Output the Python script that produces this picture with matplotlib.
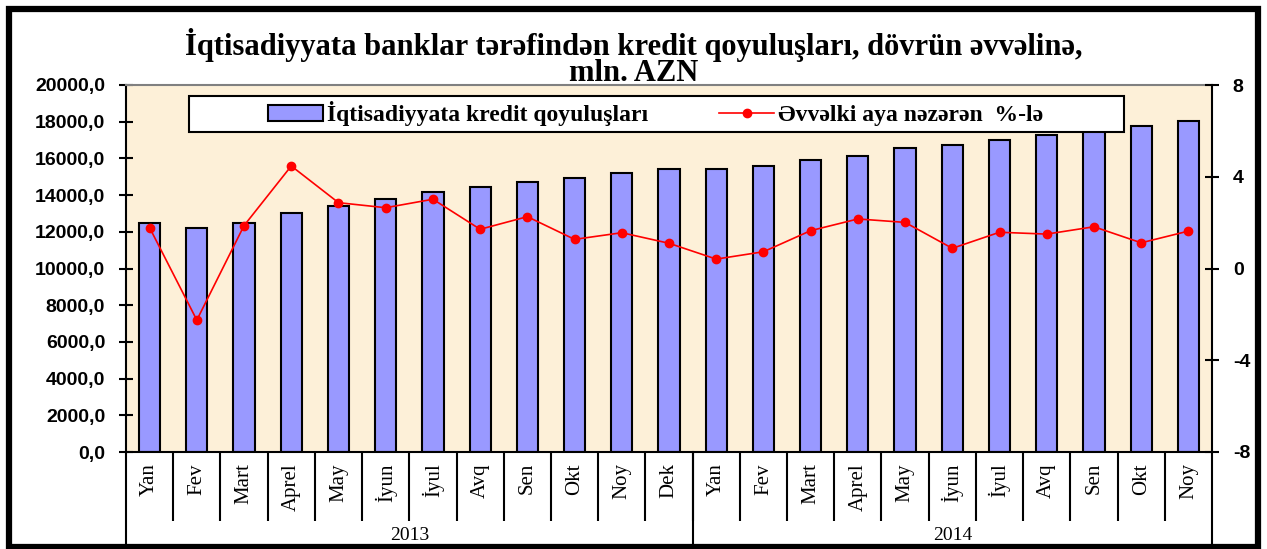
import matplotlib.pyplot as plt
import matplotlib.patches as mpatches
from matplotlib.lines import Line2D

# ay adları
aylar_2013 = ['Yan', 'Fev', 'Mart', 'Aprel', 'May', 'İyun', 'İyul', 'Avq', 'Sen', 'Okt', 'Noy', 'Dek']
aylar_2014 = ['Yan', 'Fev', 'Mart', 'Aprel', 'May', 'İyun', 'İyul', 'Avq', 'Sen', 'Okt', 'Noy']
illər = ['2013', '2014']

# kredit qoyuluşları, mln. AZN
kredit = [12460, 12190, 12460, 13010, 13420, 13800, 14190, 14460, 14730, 14950, 15190, 15420,
          15430, 15590, 15910, 16150, 16550, 16730, 17000, 17300, 17560, 17790, 18060]
# əvvəlki aya nəzərən, %
artim = [1.78, -2.25, 1.87, 4.47, 2.87, 2.65, 3.02, 1.71, 2.26, 1.27, 1.56, 1.10,
         0.41, 0.73, 1.65, 2.16, 2.01, 0.88, 1.58, 1.50, 1.82, 1.12, 1.63]

aylar = aylar_2013 + aylar_2014
x = list(range(len(aylar)))

serif = 'Liberation Serif'
sans = 'Liberation Sans'

fig = plt.figure(figsize=(12.67, 5.49), dpi=100)
ax = fig.add_axes([126 / 1267, 1 - 452 / 549, (1212 - 126) / 1267, (452 - 85) / 549])
ax.set_facecolor('#FDF0D8')

ax.bar(x, kredit, width=0.45, color='#9999FF', edgecolor='black', linewidth=1.5, zorder=2)
ax.set_xlim(-0.5, len(aylar) - 0.5)
ax.set_ylim(0, 20000)
ax.set_yticks(range(0, 20001, 2000))
ax.set_yticklabels([f'{v},0' for v in range(0, 20001, 2000)],
                   fontfamily=sans, fontweight='bold', fontsize=14)
ax.tick_params(axis='y', direction='inout', length=10, width=1.5, pad=10)

ax.set_xticks(x)
ax.set_xticklabels(aylar, rotation=90, fontfamily=serif, fontsize=15)
ax.tick_params(axis='x', length=0, pad=8)
ax.set_xticks([i + 0.5 for i in x[:-1]], minor=True)
ax.tick_params(axis='x', which='minor', direction='out', length=50, width=1.5)

for s in ['left', 'bottom']:
    ax.spines[s].set_linewidth(1.5)
ax.spines['top'].set_color('#808080')
ax.spines['top'].set_linewidth(1.5)
ax.spines['right'].set_visible(False)

# il ayırıcıları
for xv in [-0.5, 11.5, len(aylar) - 0.5]:
    ax.axvline(xv, ymin=-0.27, ymax=0, color='black', linewidth=1.5, clip_on=False)
ax.text(5.5, -0.252, illər[0], transform=ax.get_xaxis_transform(), ha='center', va='bottom',
        fontfamily=serif, fontsize=14)
ax.text(17.0, -0.252, illər[1], transform=ax.get_xaxis_transform(), ha='center', va='bottom',
        fontfamily=serif, fontsize=14)

ax2 = ax.twinx()
ax2.plot(x, artim, color='#FF0000', linewidth=1.2, marker='o', markersize=6, zorder=3)
ax2.set_ylim(-8, 8)
ax2.set_yticks([-8, -4, 0, 4, 8])
ax2.set_yticklabels(['-8', '-4', '0', '4', '8'], fontfamily=sans, fontweight='bold', fontsize=14)
ax2.tick_params(axis='y', direction='inout', length=10, width=1.5, pad=10)
ax2.spines['right'].set_linewidth(1.5)
for s in ['left', 'top', 'bottom']:
    ax2.spines[s].set_visible(False)

# legend qutusu
box = mpatches.Rectangle((0.058, 0.873), 0.861, 0.097, transform=ax2.transAxes,
                         facecolor='white', edgecolor='black', linewidth=1.5, zorder=5)
ax2.add_patch(box)
h1 = mpatches.Patch(facecolor='#9999FF', edgecolor='black', linewidth=1.5)
h2 = Line2D([], [], color='#FF0000', linewidth=1.2, marker='o', markersize=6)
leg = ax2.legend([h1, h2], ['İqtisadiyyata kredit qoyuluşları', 'Əvvəlki aya nəzərən  %-lə'],
                 loc='center', bbox_to_anchor=(0.488, 0.921), ncol=2, frameon=False,
                 prop={'family': serif, 'weight': 'bold', 'size': 17},
                 handlelength=2.3, handletextpad=0.2, columnspacing=3.0)
leg.set_zorder(10)

fig.text(0.5, 1 - 58 / 549,
         'İqtisadiyyata banklar tərəfindən kredit qoyuluşları, dövrün əvvəlinə,\nmln. AZN',
         ha='center', va='center', fontfamily=serif, fontweight='bold', fontsize=22,
         linespacing=0.85)

frame = mpatches.Rectangle((9 / 1267, 2 / 549), 1249 / 1267, 538 / 549, transform=fig.transFigure,
                           fill=False, edgecolor='black', linewidth=4.5)
fig.patches.append(frame)

fig.savefig('out.png', dpi=100)
